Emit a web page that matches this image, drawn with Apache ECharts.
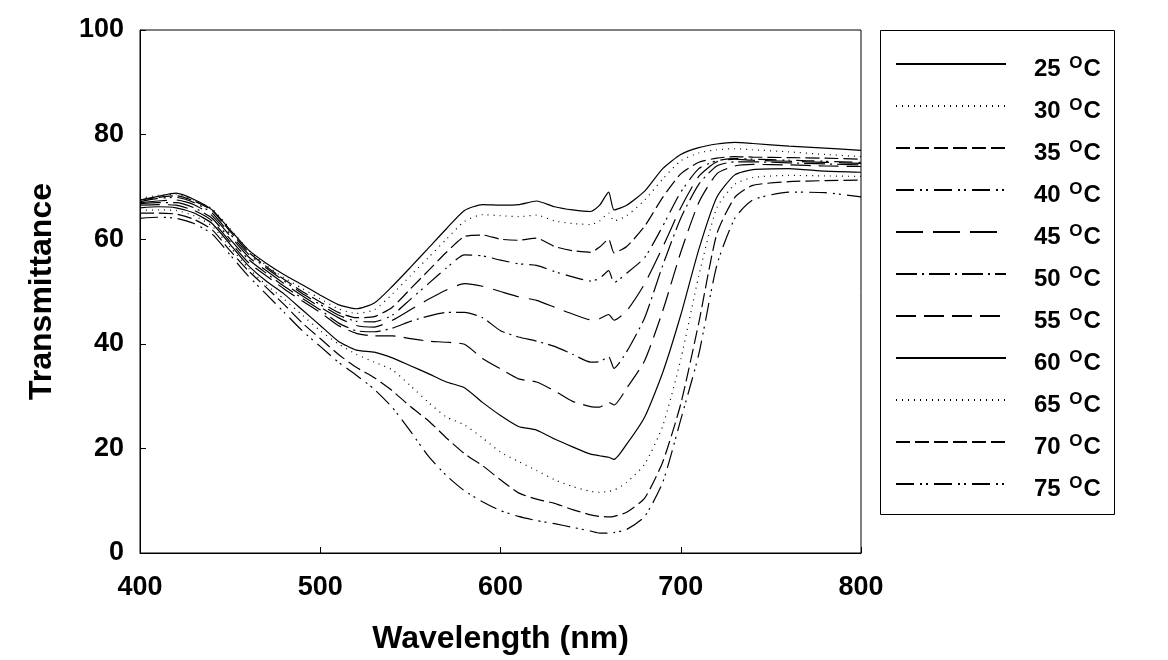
<!DOCTYPE html>
<html>
<head>
<meta charset="utf-8">
<script src="https://cdn.jsdelivr.net/npm/echarts@6/dist/echarts.min.js"></script>
<style>
html,body{margin:0;padding:0;background:#fff;}
#chart{width:1168px;height:660px;}
</style>
</head>
<body>
<div id="chart"></div>
<script>
// ---- data ----
const wavelengths = [400,410,420,430,440,450,460,470,480,490,500,510,520,530,540,550,560,570,580,590,600,610,620,630,640,650,655,660,663,670,680,690,700,710,720,730,740,760,780,800];
const temps = ['25','30','35','40','45','50','55','60','65','70','75'];
const xTicks = [400,500,600,700,800];
const yTicks = [0,20,40,60,80,100];

const t25 = [67.5,68.2,68.8,67.6,65.6,61.8,58.0,55.4,53.2,51.3,49.3,47.5,46.7,47.8,51.0,54.6,58.3,62.0,65.5,66.6,66.5,66.6,67.3,66.2,65.6,65.3,66.5,69.0,65.6,66.5,69.2,73.5,76.2,77.5,78.2,78.5,78.3,77.8,77.4,77.0];
const t30 = [67.8,68.4,68.6,67.5,65.8,62.0,58.0,55.0,52.6,50.6,48.6,46.7,45.8,46.5,49.5,53.0,56.5,60.0,63.4,64.7,64.5,64.3,64.6,63.5,63.0,62.8,63.5,65.0,63.5,64.5,67.5,71.5,75.0,76.5,77.1,77.3,77.1,76.7,76.2,75.8];
const t35 = [67.5,68.0,68.3,67.3,65.5,61.5,57.6,54.8,52.3,50.0,48.0,46.0,45.0,45.2,47.0,50.5,54.0,57.5,60.5,60.8,60.0,59.8,60.2,58.6,57.8,57.5,58.5,60.0,57.4,58.6,62.5,68.0,72.5,74.7,75.5,75.8,75.7,75.6,75.5,75.3];
const t40 = [67.2,67.8,68.0,67.0,65.0,61.0,57.2,54.5,52.0,49.6,47.5,45.5,44.3,44.2,45.5,48.5,51.5,54.5,57.0,56.8,56.0,55.3,55.0,53.8,52.8,52.0,52.5,54.0,51.7,53.5,56.5,62.5,69.0,73.5,75.0,75.4,75.3,75.1,74.9,74.7];
const t45 = [67.0,67.3,67.5,66.6,64.5,60.6,56.7,54.0,51.5,49.2,47.0,45.0,43.5,43.2,44.5,46.5,48.5,50.3,51.5,51.0,50.0,49.0,48.3,47.0,45.7,44.6,44.8,45.6,44.5,46.3,51.5,58.5,66.0,72.0,74.8,75.3,75.1,74.9,74.7,74.5];
const t50 = [66.8,67.0,67.0,66.0,64.0,60.0,56.2,53.5,51.0,48.7,46.5,44.0,42.5,42.3,43.0,44.3,45.3,46.0,46.0,45.0,42.5,41.3,40.5,39.5,38.0,36.5,36.6,37.5,35.3,38.5,45.0,55.0,64.0,70.5,74.0,74.8,74.8,74.6,74.4,74.2];
const t55 = [66.5,66.6,66.5,65.5,63.5,59.5,55.6,53.0,50.5,48.2,46.0,43.5,42.0,41.5,41.5,41.0,40.5,40.3,39.9,37.2,35.2,33.3,32.7,31.0,29.0,28.0,27.9,28.8,28.3,31.5,36.8,46.3,57.5,67.0,72.5,74.0,74.3,74.2,74.0,73.9];
const t60 = [66.0,66.2,66.0,65.0,63.0,59.0,55.0,52.0,49.5,46.5,43.5,40.5,38.8,38.4,37.3,35.8,34.3,32.7,31.6,28.8,26.3,24.2,23.5,21.8,20.3,18.9,18.6,18.3,17.9,20.8,26.0,34.5,45.5,58.0,68.0,72.3,73.3,73.5,73.0,72.8];
const t65 = [65.5,65.6,65.5,64.5,62.5,58.5,54.5,51.3,48.5,45.5,42.5,40.0,38.0,36.5,35.0,32.0,28.8,26.0,24.5,22.0,19.3,17.5,15.8,14.0,12.7,11.8,11.6,11.8,12.0,13.5,17.0,24.3,37.0,53.0,66.0,70.5,71.8,72.2,72.1,72.0];
const t70 = [65.0,65.0,64.8,63.8,61.8,57.8,54.0,50.8,47.5,44.0,41.0,38.0,35.5,33.5,31.0,28.0,25.3,22.0,19.0,16.7,14.0,11.5,10.3,9.5,8.3,7.3,7.0,6.9,7.0,7.8,10.5,17.4,28.5,44.0,61.0,68.0,70.3,71.0,71.2,71.3];
const t75 = [64.0,64.2,64.0,63.0,61.0,57.0,53.0,49.5,46.0,42.5,39.5,36.5,34.0,31.3,27.8,23.3,18.5,14.8,11.9,9.8,8.1,7.0,6.2,5.6,4.9,4.2,3.8,3.8,3.9,4.5,7.0,13.5,25.5,38.0,55.0,64.0,67.5,69.0,68.9,68.1];

const seriesValues = [t25,t30,t35,t40,t45,t50,t55,t60,t65,t70,t75];

// ---- styles ----
const dashStyles = [
  'solid',
  [1,5],
  [14,5],
  [18,6,2,4,2,6],
  [27,10],
  [21,5,2,5],
  [20,8],
  'solid',
  [1,5],
  [14,5],
  [18,6,2,4,2,6]
];
const FONT = "'Liberation Sans', Arial, sans-serif";

const series = temps.map((t, i) => ({
  name: t,
  type: 'line',
  symbol: 'none',
  showSymbol: false,
  smooth: 0.2,
  data: wavelengths.map((w, j) => [w, seriesValues[i][j]]),
  lineStyle: { color: '#000', width: 1.2, type: dashStyles[i] },
  itemStyle: { color: '#000' },
  emphasis: { disabled: true },
  z: 3
}));

const chart = echarts.init(document.getElementById('chart'), null, { renderer: 'canvas' });
chart.setOption({
  backgroundColor: '#fff',
  animation: false,
  grid: {
    left: 140, right: 307, top: 30, bottom: 106,
    show: true, borderColor: '#000', borderWidth: 1, backgroundColor: 'transparent'
  },
  xAxis: {
    type: 'value', min: xTicks[0], max: xTicks[xTicks.length - 1], interval: 100,
    name: 'Wavelength (nm)', nameLocation: 'middle', nameGap: 70,
    nameTextStyle: { fontFamily: FONT, fontWeight: 'bold', fontSize: 32, color: '#000' },
    axisLine: { show: true, lineStyle: { color: '#000', width: 1 } },
    axisTick: { show: true, inside: true, length: 6, lineStyle: { color: '#000' } },
    axisLabel: { fontFamily: FONT, fontWeight: 'bold', fontSize: 27, color: '#000', margin: 21 },
    splitLine: { show: false }
  },
  yAxis: {
    type: 'value', min: yTicks[0], max: yTicks[yTicks.length - 1], interval: 20,
    name: 'Transmittance', nameLocation: 'middle', nameGap: 82,
    nameTextStyle: { fontFamily: FONT, fontWeight: 'bold', fontSize: 32, color: '#000' },
    axisLine: { show: true, lineStyle: { color: '#000', width: 1 } },
    axisTick: { show: true, inside: true, length: 6, lineStyle: { color: '#000' } },
    axisLabel: { fontFamily: FONT, fontWeight: 'bold', fontSize: 27, color: '#000', margin: 16, padding: [5, 0, 0, 0] },
    splitLine: { show: false }
  },
  legend: {
    orient: 'vertical',
    left: 895, top: 55,
    padding: 0,
    itemWidth: 110, itemHeight: 14, itemGap: 16,
    data: temps,
    selectedMode: false,
    itemStyle: { color: 'transparent', borderColor: 'transparent', borderWidth: 0, opacity: 0 },
    formatter: name => '{n|' + name + ' }{o|O}{c|C}',
    textStyle: {
      padding: [10, 0, 0, 23],
      color: '#000',
      rich: {
        n: { fontFamily: FONT, fontWeight: 'bold', fontSize: 24, lineHeight: 28, color: '#000' },
        o: { fontFamily: FONT, fontWeight: 'bold', fontSize: 17, lineHeight: 12, verticalAlign: 'top', color: '#000', padding: [0, 1, 0, 2] },
        c: { fontFamily: FONT, fontWeight: 'bold', fontSize: 24, lineHeight: 28, color: '#000' }
      }
    }
  },
  graphic: [
    { type: 'rect', shape: { x: 880.5, y: 30.5, width: 234, height: 484 },
      style: { fill: 'none', stroke: '#000', lineWidth: 1 }, z: 10 }
  ],
  series: series
});
</script>
</body>
</html>
